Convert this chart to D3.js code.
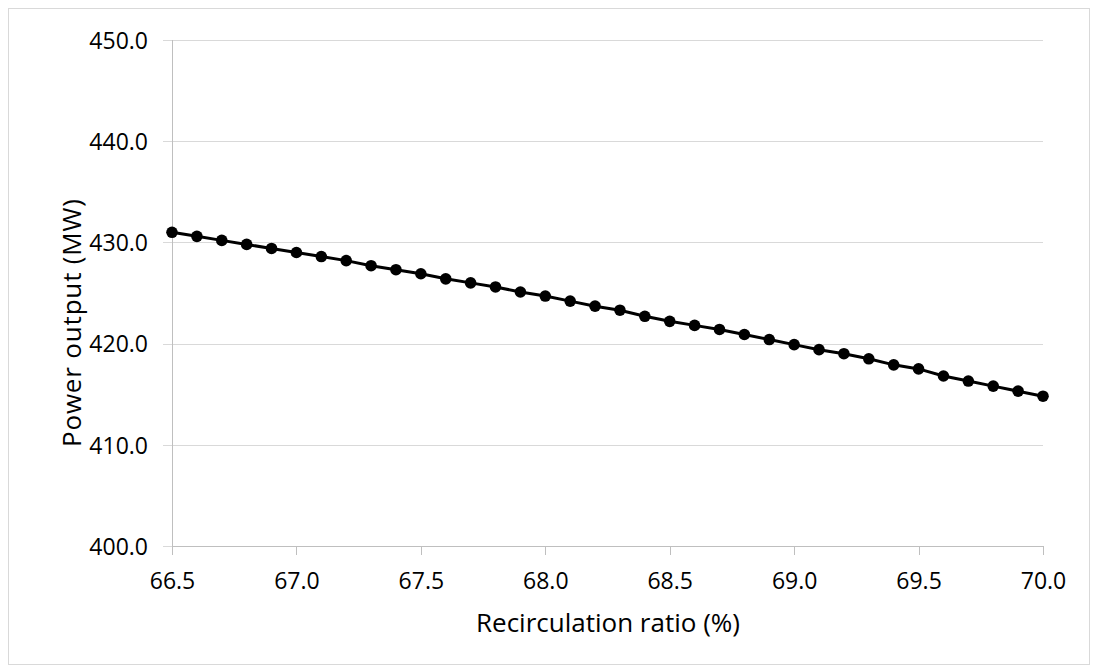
<!DOCTYPE html>
<html>
<head>
<meta charset="utf-8">
<script src="https://cdn.jsdelivr.net/npm/d3@7"></script>
<style>
  body { margin: 0; background: #fff; }
  svg text { font-family: "Open Sans", "DejaVu Sans", sans-serif; fill: #000; }
</style>
</head>
<body>
<svg id="chart" width="1098" height="672"></svg>
<script>
// Recirculation ratio (%) and power output (MW)
const ratio = [66.5, 66.6, 66.7, 66.8, 66.9, 67.0, 67.1, 67.2, 67.3, 67.4,
  67.5, 67.6, 67.7, 67.8, 67.9, 68.0, 68.1, 68.2, 68.3, 68.4,
  68.5, 68.6, 68.7, 68.8, 68.9, 69.0, 69.1, 69.2, 69.3, 69.4,
  69.5, 69.6, 69.7, 69.8, 69.9, 70.0];
const power = [431.0, 430.6, 430.2, 429.8, 429.4, 429.0, 428.6, 428.2, 427.7, 427.3,
  426.9, 426.4, 426.0, 425.6, 425.1, 424.7, 424.2, 423.7, 423.3, 422.7,
  422.2, 421.8, 421.4, 420.9, 420.4, 419.9, 419.4, 419.0, 418.5, 417.9,
  417.5, 416.8, 416.3, 415.8, 415.3, 414.8];
const xTicks = [66.5, 67.0, 67.5, 68.0, 68.5, 69.0, 69.5, 70.0];
const yTicks = [400, 410, 420, 430, 440, 450];

const svg = d3.select("#chart");

// outer frame
svg.append("rect")
  .attr("x", 8.5).attr("y", 8.5)
  .attr("width", 1081).attr("height", 656)
  .attr("fill", "none").attr("stroke", "#d9d9d9");

const x = d3.scaleLinear().domain([66.5, 70.0]).range([172, 1043]);
const y = d3.scaleLinear().domain([400, 450]).range([546, 40]);

// horizontal gridlines + y labels
const yAxis = d3.axisLeft(y)
  .tickValues(yTicks)
  .tickSize(-(1043 - 163))
  .tickFormat(d3.format(".1f"));

const gy = svg.append("g")
  .attr("transform", "translate(163,0)")
  .call(yAxis);
gy.select(".domain").remove();
gy.selectAll(".tick line").attr("stroke", "#d9d9d9").attr("shape-rendering", "crispEdges");
gy.selectAll(".tick text")
  .style("font-size", "23px")
  .attr("x", -15)
  .attr("dy", "0.36em");

// vertical axis line
svg.append("line")
  .attr("x1", 172).attr("x2", 172)
  .attr("y1", 40).attr("y2", 555)
  .attr("stroke", "#bfbfbf").attr("shape-rendering", "crispEdges");

// x axis
const xAxis = d3.axisBottom(x)
  .tickValues(xTicks)
  .tickSize(9)
  .tickFormat(d3.format(".1f"));

const gx = svg.append("g")
  .attr("transform", "translate(0,546)")
  .call(xAxis);
gx.select(".domain").attr("stroke", "#bfbfbf").attr("d", "M172,0H1043").attr("shape-rendering", "crispEdges");
gx.selectAll(".tick line").attr("stroke", "#bfbfbf").attr("shape-rendering", "crispEdges");
gx.selectAll(".tick text")
  .style("font-size", "23px")
  .attr("y", 43)
  .attr("dy", null);

// axis titles
svg.append("text")
  .attr("transform", "translate(81,323) rotate(-90)")
  .attr("text-anchor", "middle")
  .attr("textLength", 248)
  .attr("lengthAdjust", "spacing")
  .style("font-size", "26px")
  .text("Power output (MW)");

svg.append("text")
  .attr("x", 608).attr("y", 632)
  .attr("text-anchor", "middle")
  .style("font-size", "26px")
  .text("Recirculation ratio (%)");

// series
const data = ratio.map((r, i) => ({ r, p: power[i] }));

svg.append("path")
  .datum(data)
  .attr("fill", "none")
  .attr("stroke", "#000")
  .attr("stroke-width", 3)
  .attr("d", d3.line().x(d => x(d.r)).y(d => y(d.p)));

svg.append("g")
  .selectAll("circle")
  .data(data)
  .join("circle")
  .attr("cx", d => x(d.r))
  .attr("cy", d => y(d.p))
  .attr("r", 5.8)
  .attr("fill", "#000");
</script>
</body>
</html>
